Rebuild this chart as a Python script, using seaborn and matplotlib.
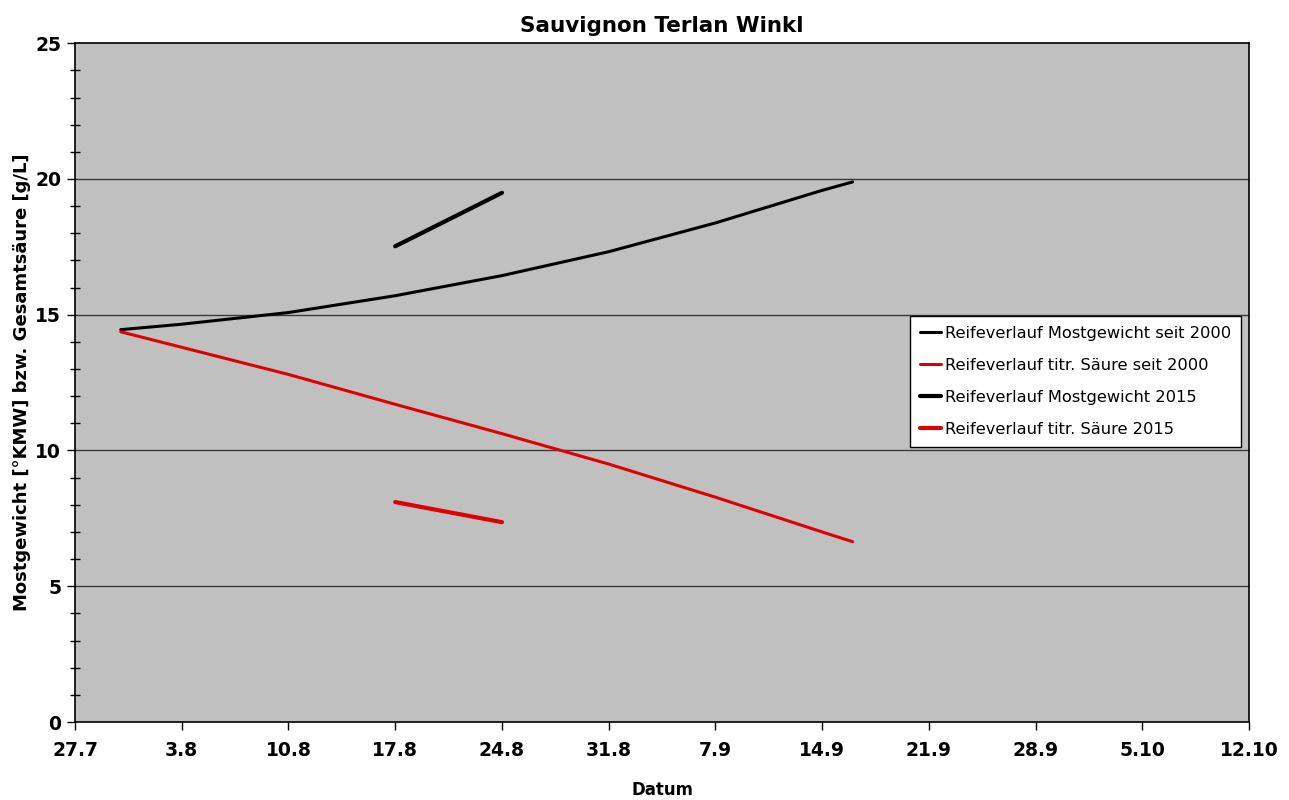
import pandas as pd
import numpy as np
import matplotlib
matplotlib.use("Agg")
import matplotlib.pyplot as plt
import seaborn as sns
from matplotlib.ticker import MultipleLocator

# ------------------------------------------------------------
# DATA
# ------------------------------------------------------------
avg_dates = ["2015-07-30", "2015-08-03", "2015-08-10", "2015-08-17", "2015-08-24",
             "2015-08-31", "2015-09-07", "2015-09-14", "2015-09-16"]
avg_mostgewicht = [14.45, 14.65, 15.08, 15.70, 16.44, 17.32, 18.38, 19.58, 19.89]
avg_saeure = [14.37, 13.80, 12.80, 11.70, 10.62, 9.50, 8.28, 7.00, 6.64]

dates_2015 = ["2015-08-17", "2015-08-24"]
mostgewicht_2015 = [17.52, 19.49]
saeure_2015 = [8.10, 7.36]

tick_dates = ["2015-07-27", "2015-08-03", "2015-08-10", "2015-08-17", "2015-08-24",
              "2015-08-31", "2015-09-07", "2015-09-14", "2015-09-21", "2015-09-28",
              "2015-10-05", "2015-10-12"]
tick_labels = ["27.7", "3.8", "10.8", "17.8", "24.8", "31.8", "7.9", "14.9",
               "21.9", "28.9", "5.10", "12.10"]

labels = ["Reifeverlauf Mostgewicht seit 2000",
          "Reifeverlauf titr. Säure seit 2000",
          "Reifeverlauf Mostgewicht 2015",
          "Reifeverlauf titr. Säure 2015"]

# ------------------------------------------------------------
# STYLE
# ------------------------------------------------------------
sns.set_style("ticks")
plt.rcParams['font.family'] = ['DejaVu Sans']
plt.rcParams['text.color'] = 'black'
plt.rcParams['axes.labelcolor'] = 'black'
plt.rcParams['xtick.color'] = 'black'
plt.rcParams['ytick.color'] = 'black'

avg = pd.DataFrame({"Datum": pd.to_datetime(avg_dates),
                    "Most": avg_mostgewicht, "Saeure": avg_saeure})
y15 = pd.DataFrame({"Datum": pd.to_datetime(dates_2015),
                    "Most": mostgewicht_2015, "Saeure": saeure_2015})

fig = plt.figure(figsize=(12.89, 8.0), dpi=100)
ax = fig.add_axes([0.0582, 0.0975, 0.9108, 0.8485])
ax.set_facecolor("#c0c0c0")

# horizontal grid lines at major ticks
for yv in [5, 10, 15, 20]:
    ax.axhline(yv, color="#3a3a3a", lw=1.0, zorder=1)

sns.lineplot(data=avg, x="Datum", y="Most", color="black", lw=2.2, ax=ax, label=labels[0])
sns.lineplot(data=avg, x="Datum", y="Saeure", color="#e00000", lw=2.2, ax=ax, label=labels[1])
sns.lineplot(data=y15, x="Datum", y="Most", color="black", lw=3.0, ax=ax, label=labels[2])
sns.lineplot(data=y15, x="Datum", y="Saeure", color="#e00000", lw=3.0, ax=ax, label=labels[3])

tick_pos = pd.to_datetime(tick_dates)
ax.set_xlim(tick_pos[0], tick_pos[-1])
ax.set_xticks(tick_pos)
ax.set_xticklabels(tick_labels, fontsize=13.5, fontweight="bold")
ax.set_ylim(0, 25)
ax.set_yticks([0, 5, 10, 15, 20, 25])
ax.set_yticklabels(["0", "5", "10", "15", "20", "25"], fontsize=13.5, fontweight="bold")
ax.yaxis.set_minor_locator(MultipleLocator(1))
ax.tick_params(axis="x", which="major", direction="out", length=6, width=1, pad=8)
ax.tick_params(axis="y", which="major", direction="out", length=6, width=1, pad=4)
ax.tick_params(axis="y", which="minor", direction="inout", length=7, width=1)

for sp in ax.spines.values():
    sp.set_visible(True)
    sp.set_color("black")
    sp.set_linewidth(1.2)

ax.set_title("Sauvignon Terlan Winkl", fontsize=15.5, fontweight="bold", pad=8)
ax.set_xlabel("Datum", fontsize=12, fontweight="bold", labelpad=15)
ax.set_ylabel("Mostgewicht [°KMW] bzw. Gesamtsäure [g/L]", fontsize=13,
              fontweight="bold", labelpad=3)

leg = ax.legend(loc="upper right", bbox_to_anchor=(0.993, 0.598), borderaxespad=0,
                fontsize=11.7, frameon=True, fancybox=False, framealpha=1,
                edgecolor="black", handlelength=1.3, handletextpad=0.25,
                labelspacing=1.05, borderpad=0.6)
leg.get_frame().set_linewidth(1.0)

fig.savefig("out.png", dpi=100)
